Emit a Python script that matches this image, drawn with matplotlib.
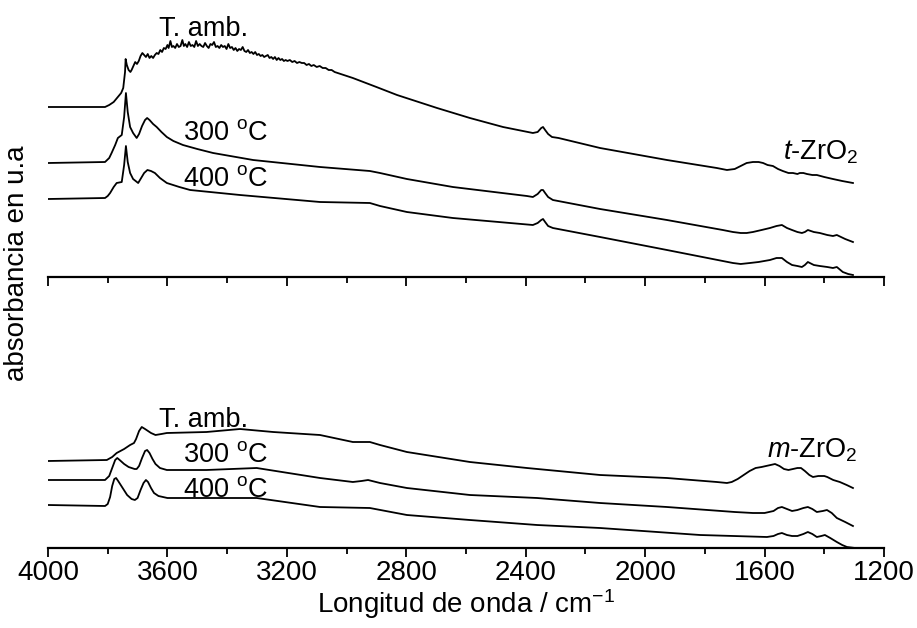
import numpy as np
import matplotlib
matplotlib.use("Agg")
import matplotlib.pyplot as plt
from matplotlib.ticker import MultipleLocator

plt.rcParams['font.family'] = ['Liberation Sans', 'DejaVu Sans']
plt.rcParams['mathtext.fontset'] = 'custom'
plt.rcParams['mathtext.rm'] = 'Liberation Sans'
plt.rcParams['mathtext.it'] = 'Liberation Sans:italic'

# ---- t-ZrO2 (top panel), wavenumber / absorbance (a.u.) ----
t_amb_wn = [4000, 3809, 3795, 3780, 3766, 3755, 3748, 3742, 3740, 3736,
            3730, 3724, 3720, 3714, 3708, 3702, 3696, 3690, 3684, 3678,
            3672, 3666, 3660, 3654, 3648, 3642, 3636, 3630, 3624, 3618,
            3612, 3606, 3600, 3596, 3590, 3585, 3580, 3574, 3568, 3562,
            3556, 3550, 3545, 3540, 3534, 3528, 3522, 3516, 3510, 3504,
            3498, 3492, 3486, 3480, 3474, 3468, 3462, 3456, 3450, 3444,
            3438, 3432, 3426, 3420, 3414, 3408, 3402, 3396, 3390, 3384,
            3378, 3372, 3366, 3360, 3354, 3348, 3342, 3336, 3330, 3324,
            3318, 3312, 3306, 3300, 3294, 3288, 3282, 3276, 3270, 3264,
            3258, 3252, 3246, 3240, 3234, 3228, 3222, 3216, 3210, 3204,
            3198, 3190, 3182, 3174, 3166, 3158, 3150, 3142, 3134, 3126,
            3118, 3110, 3100, 3090, 3080, 3070, 3060, 3050, 3040, 3030,
            3020, 3010, 3000, 2979, 2900, 2831, 2697, 2587, 2476, 2376,
            2360, 2348, 2342, 2335, 2325, 2312, 2290, 2151, 1927, 1760,
            1726, 1700, 1680, 1660, 1639, 1620, 1605, 1590, 1572, 1555,
            1539, 1520, 1505, 1490, 1482, 1470, 1458, 1440, 1425, 1400,
            1371, 1340, 1304]
t_amb_y = [170, 170, 172, 175, 180, 184, 189, 205, 218, 212,
           207, 205, 207, 211, 215, 213, 216, 221, 224, 222,
           220, 223, 219, 221, 219, 222, 224, 223, 227, 225,
           229, 228, 232, 229, 236, 230, 231, 229, 233, 230,
           231, 237, 231, 233, 230, 235, 231, 232, 230, 236,
           231, 233, 231, 230, 234, 231, 229, 233, 232, 235,
           230, 231, 229, 232, 230, 231, 228, 233, 229, 230,
           227, 229, 226, 228, 227, 230, 226, 225, 227, 224,
           225, 223, 225, 222, 223, 221, 222, 220, 221, 222,
           219, 220, 218, 220, 217, 219, 217, 218, 216, 217,
           216, 217, 215, 216, 214, 215, 214, 214, 212, 213,
           211, 212, 210, 211, 209, 209, 207, 207, 205, 204,
           203, 202, 201, 199, 190, 182, 169, 159, 150, 144,
           145, 149, 150, 147, 143, 140, 139, 129, 117, 109,
           107, 108, 111, 114, 115, 115, 114, 112, 111, 108,
           106, 104, 104, 103, 104, 104, 103, 102, 102, 100,
           98, 96, 94]

t_300_wn = [4000, 3809, 3795, 3787, 3775, 3766, 3753, 3745, 3739, 3733,
            3725, 3715, 3703, 3695, 3685, 3675, 3668, 3660, 3648, 3636,
            3620, 3602, 3580, 3548, 3500, 3447, 3313, 3089, 2922, 2888,
            2798, 2644, 2396, 2376, 2360, 2348, 2342, 2335, 2325, 2309,
            2151, 1927, 1740, 1706, 1680, 1660, 1639, 1610, 1582, 1560,
            1542, 1525, 1508, 1490, 1475, 1465, 1455, 1435, 1415, 1390,
            1371, 1358, 1330, 1304]
t_300_y = [114, 115, 119, 124, 132, 139, 142, 160, 184, 165,
           150, 144, 139, 143, 151, 157, 159, 157, 153, 150,
           145, 140, 136, 132, 128, 124, 117, 110, 106, 104,
           98, 90, 81, 80, 83, 87, 87, 84, 80, 77,
           68, 57, 47, 45, 44, 44, 45, 47, 49, 51,
           52, 49, 47, 45, 44, 45, 47, 45, 44, 42,
           41, 42, 38, 35]

t_400_wn = [4000, 3809, 3800, 3792, 3780, 3770, 3753, 3745, 3739, 3733,
            3725, 3715, 3698, 3688, 3678, 3667, 3655, 3642, 3625, 3602,
            3560, 3524, 3357, 3089, 2922, 2888, 2798, 2644, 2376, 2360,
            2348, 2342, 2335, 2325, 2309, 2151, 1927, 1740, 1706, 1680,
            1649, 1620, 1582, 1560, 1542, 1525, 1508, 1490, 1475, 1465,
            1455, 1435, 1415, 1390, 1371, 1358, 1338, 1320, 1304]
t_400_y = [78, 79, 81, 84, 90, 94, 95, 112, 131, 115,
           104, 98, 94, 99, 104, 107, 106, 104, 99, 94,
           90, 87, 82, 75, 74, 71, 65, 59, 52, 54,
           57, 58, 55, 51, 49, 40, 27, 16, 14, 13,
           14, 15, 17, 19, 19, 15, 12, 11, 10, 12,
           15, 12, 11, 10, 9, 10, 5, 3, 2]

# ---- m-ZrO2 (bottom panel) ----
m_amb_wn = [4000, 3803, 3785, 3770, 3745, 3725, 3712, 3705, 3695, 3686,
            3675, 3665, 3655, 3640, 3620, 3602, 3469, 3357, 3246, 3089,
            2979, 2940, 2922, 2888, 2798, 2587, 2396, 2151, 1927, 1760,
            1726, 1710, 1690, 1670, 1650, 1630, 1610, 1595, 1580, 1565,
            1550, 1535, 1520, 1505, 1490, 1478, 1465, 1450, 1438, 1420,
            1400, 1390, 1370, 1348, 1325, 1304]
m_amb_y = [87, 88, 91, 95, 99, 103, 105, 109, 117, 121,
           119, 117, 115, 113, 114, 115, 116, 119, 116, 113,
           106, 106, 106, 103, 96, 86, 80, 73, 70, 66,
           65, 66, 69, 73, 77, 80, 81, 82, 83, 84,
           82, 79, 78, 79, 80, 80, 77, 73, 71, 72,
           72, 71, 68, 66, 63, 60]

m_300_wn = [4000, 3809, 3795, 3785, 3775, 3768, 3760, 3745, 3730, 3710,
            3703, 3695, 3685, 3675, 3668, 3660, 3650, 3640, 3625, 3602,
            3469, 3301, 3089, 2979, 2950, 2928, 2888, 2798, 2587, 2362,
            2151, 1927, 1700, 1639, 1600, 1570, 1555, 1542, 1525, 1508,
            1490, 1470, 1455, 1440, 1425, 1405, 1391, 1375, 1358, 1330,
            1304]
m_300_y = [68, 68, 72, 80, 88, 90, 88, 84, 81, 79,
           79, 82, 90, 97, 98, 95, 89, 84, 80, 78,
           78, 80, 70, 66, 67, 68, 65, 60, 53, 50,
           45, 41, 36, 35, 35, 37, 40, 41, 39, 37,
           38, 40, 41, 39, 36, 37, 38, 35, 30, 26,
           22]

m_400_wn = [4000, 3809, 3800, 3792, 3785, 3778, 3772, 3765, 3750, 3735,
            3720, 3709, 3700, 3690, 3680, 3672, 3665, 3655, 3645, 3630,
            3600, 3469, 3301, 3089, 2922, 2798, 2587, 2362, 2151, 1816,
            1592, 1570, 1555, 1542, 1525, 1508, 1490, 1470, 1455, 1440,
            1425, 1410, 1398, 1380, 1358, 1340, 1324, 1297]
m_400_y = [43, 42, 44, 51, 62, 69, 70, 67, 60, 53,
           49, 48, 50, 58, 65, 68, 66, 60, 55, 52,
           50, 50, 50, 41, 40, 33, 28, 23, 20, 13,
           11, 12, 14, 15, 13, 12, 12, 14, 16, 14,
           11, 12, 13, 10, 6, 3, 1, 0]

fig = plt.figure(figsize=(9.17, 6.28), dpi=100)
W, H = 917, 628
ax_top = fig.add_axes([48 / W, 1 - 277 / H, 836 / W, 277 / H])
ax_bot = fig.add_axes([48 / W, 1 - 548 / H, 836 / W, 258 / H])

lw = 1.3
for x, y in [(t_amb_wn, t_amb_y), (t_300_wn, t_300_y), (t_400_wn, t_400_y)]:
    ax_top.plot(x, y, color='black', lw=lw)
for x, y in [(m_amb_wn, m_amb_y), (m_300_wn, m_300_y), (m_400_wn, m_400_y)]:
    ax_bot.plot(x, y, color='black', lw=lw)

ax_top.set_ylim(0, 277)
ax_bot.set_ylim(0, 258)
for ax in (ax_top, ax_bot):
    ax.set_xlim(4000, 1200)
    for s in ('left', 'right', 'top'):
        ax.spines[s].set_visible(False)
    ax.spines['bottom'].set_linewidth(1.6)
    ax.set_yticks([])
    ax.xaxis.set_major_locator(MultipleLocator(400))
    ax.xaxis.set_minor_locator(MultipleLocator(200))
    ax.tick_params(axis='x', which='major', direction='out', length=6.5, width=1.3,
                   labelsize=20, pad=2)
    ax.tick_params(axis='x', which='minor', direction='out', length=4, width=1.3)
    ax.patch.set_visible(False)
ax_top.tick_params(axis='x', labelbottom=False)

fs = 19.5
ax_top.text(3478, 241, 'T. amb.', fontsize=fs, ha='center', va='baseline')
ax_top.text(3548, 137, r'300 $^{\rm o}$C', fontsize=fs, ha='left', va='baseline')
ax_top.text(3548, 91, r'400 $^{\rm o}$C', fontsize=fs, ha='left', va='baseline')
ax_top.text(1539, 117, r'$t$-ZrO$_2$', fontsize=fs, ha='left', va='baseline')

ax_bot.text(3478, 121, 'T. amb.', fontsize=fs, ha='center', va='baseline')
ax_bot.text(3548, 86, r'300 $^{\rm o}$C', fontsize=fs, ha='left', va='baseline')
ax_bot.text(3548, 51, r'400 $^{\rm o}$C', fontsize=fs, ha='left', va='baseline')
ax_bot.text(1592, 91, r'$m$-ZrO$_2$', fontsize=fs, ha='left', va='baseline')

ax_bot.set_xlabel(r'Longitud de onda / cm$^{-1}$', fontsize=20, labelpad=1)
fig.text(17 / W, 1 - 263 / H, 'absorbancia en u.a', rotation=90, fontsize=20,
         ha='center', va='center')

fig.savefig('out.png', dpi=100)
